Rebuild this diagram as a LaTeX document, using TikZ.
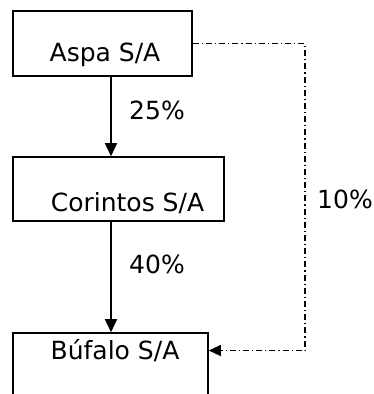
\documentclass[tikz,border=0pt]{standalone}
\usepackage{fontspec}
\setmainfont{DejaVu Sans}
\usetikzlibrary{arrows.meta}
\tikzset{
  box/.style={draw=black, line width=1.6pt, minimum width=#1, inner sep=0pt},
  txt/.style={anchor=base, inner sep=0pt, font=\fontsize{25}{28}\selectfont},
  solidarrow/.style={line width=1.6pt, -{Triangle[length=13pt,width=12pt]}},
  dashdotline/.style={line width=1.3pt, dash pattern=on 6pt off 3pt on 1.2pt off 3pt, -{Triangle[length=12pt,width=11pt]}}
}
\begin{document}
\begin{tikzpicture}[x=1pt,y=-1pt]
\clip (0,0) rectangle (374,394);
\node[box=179pt, minimum height=65pt] (aspa) at (102.5,43.5) {};
\node[box=211pt, minimum height=64pt] (cor) at (118.5,189) {};
\node[box=195pt, minimum height=80pt] (buf) at (110.5,373) {};
\node[txt] (taspa) at (105,61) {Aspa S/A};
\node[txt] (tcor) at (127.5,211) {Corintos S/A};
\node[txt] (tbuf) at (115,359) {Búfalo S/A};
\node[txt] (p25) at (157,119) {25\%};
\node[txt] (p40) at (157,273) {40\%};
\node[txt] (p10) at (345,208) {10\%};
\coordinate (ax) at (111,0);
\coordinate (corner) at (305,350.5);
\draw[solidarrow] (ax |- aspa.south) -- (ax |- cor.north);
\draw[solidarrow] (ax |- cor.south) -- (ax |- buf.north);
\draw[dashdotline] (aspa.east) -| (corner) -- (buf.east |- corner);
\end{tikzpicture}
\end{document}
